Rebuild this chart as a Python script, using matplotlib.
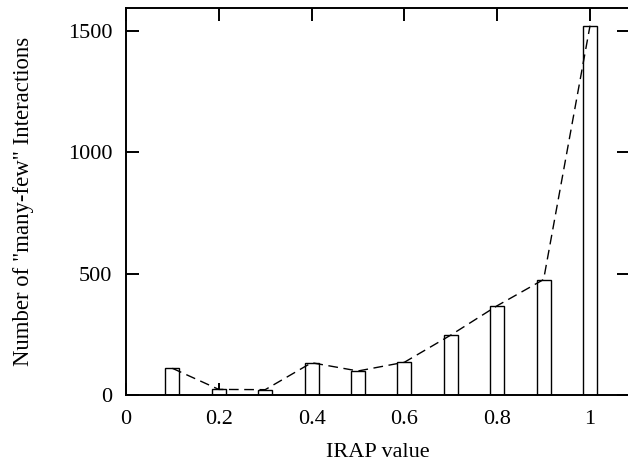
import matplotlib
matplotlib.use("Agg")
import matplotlib.pyplot as plt

# IRAP histogram values
irap = [0.1, 0.2, 0.3, 0.4, 0.5, 0.6, 0.7, 0.8, 0.9, 1.0]
counts = [110, 23, 22, 133, 99, 135, 247, 368, 476, 1522]
x_ticks = [0, 0.2, 0.4, 0.6, 0.8, 1]
x_labels = ["0", "0.2", "0.4", "0.6", "0.8", "1"]
y_ticks = [0, 500, 1000, 1500]

plt.rcParams["font.family"] = ["Liberation Serif", "DejaVu Serif"]
plt.rcParams["font.size"] = 16

fig = plt.figure(figsize=(6.28, 4.63), dpi=100)
ax = fig.add_axes([126 / 628, 1 - 395 / 463, 503 / 628, 387 / 463])

ax.bar(irap, counts, width=0.03, facecolor="white", edgecolor="black", linewidth=1.0, zorder=2)
ax.plot(irap, counts, color="black", linewidth=1.0, linestyle=(0, (7, 4)), zorder=3)

ax.set_xlim(0, 1.084)
ax.set_ylim(0, 1595)
ax.set_xticks(x_ticks)
ax.set_xticklabels(x_labels)
ax.set_yticks(y_ticks)
ax.tick_params(direction="in", length=9, width=1.4, top=True, right=True)
ax.tick_params(axis="y", pad=10)
ax.tick_params(axis="x", pad=11)
for s in ax.spines.values():
    s.set_linewidth(1.4)

ax.set_xlabel("IRAP value", labelpad=10)
ax.set_ylabel('Number of "many-few" Interactions', fontsize=16.4, labelpad=24)

fig.savefig("out.png", dpi=100)
